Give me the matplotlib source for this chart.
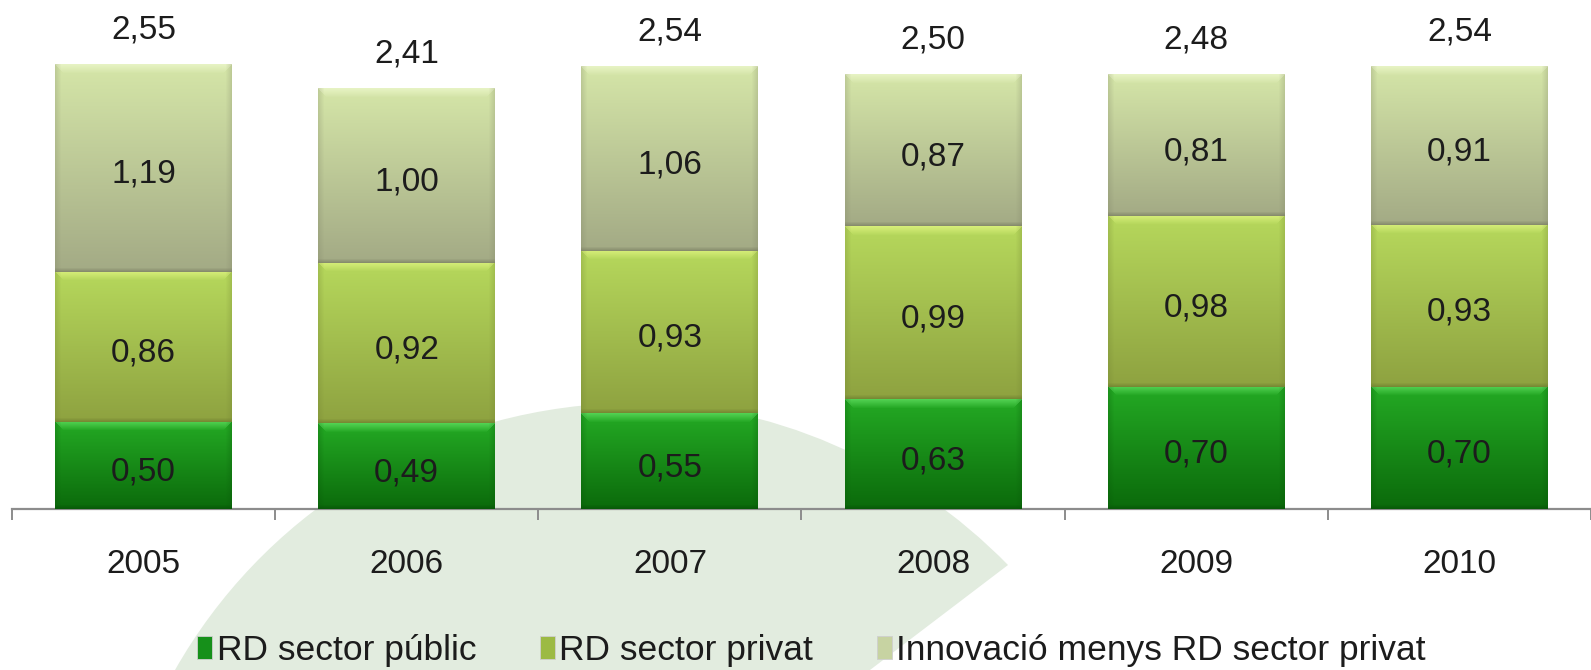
import numpy as np
import matplotlib
matplotlib.use("Agg")
import matplotlib.pyplot as plt
from matplotlib.patches import Patch, PathPatch
from matplotlib.path import Path
from matplotlib.colors import to_rgb
from matplotlib.transforms import offset_copy

years = ["2005", "2006", "2007", "2008", "2009", "2010"]
rd_public = [0.50, 0.49, 0.55, 0.63, 0.70, 0.70]
rd_privat = [0.86, 0.92, 0.93, 0.99, 0.98, 0.93]
innovacio = [1.19, 1.00, 1.06, 0.87, 0.81, 0.91]
totals = [2.55, 2.41, 2.54, 2.50, 2.48, 2.54]
series_names = ["RD sector públic", "RD sector privat", "Innovació menys RD sector privat"]

plt.rcParams['font.family'] = ['Liberation Sans', 'DejaVu Sans']

W, H = 1591, 670
fig = plt.figure(figsize=(W / 100, H / 100), dpi=100)
fig.patch.set_facecolor("white")

# faint watermark swoosh (decorative background)
def fp(x, y):
    return (x / W, 1 - y / H)
verts = [fp(175, 670), fp(260, 520), fp(420, 410), fp(620, 403),
         fp(770, 398), fp(910, 465), fp(1008, 565), fp(870, 670), fp(175, 670)]
codes = [Path.MOVETO, Path.CURVE4, Path.CURVE4, Path.CURVE4,
         Path.CURVE4, Path.CURVE4, Path.CURVE4, Path.LINETO, Path.CLOSEPOLY]
fig.patches.append(PathPatch(Path(verts, codes), transform=fig.transFigure,
                             facecolor="#e2ecdf", edgecolor="none", zorder=-10))

ax = fig.add_axes([12 / W, (H - 509) / H, 1 - 12 / W, (509 - 20.4) / H])
ax.set_zorder(1)
ax.patch.set_alpha(0)
ax.set_xlim(-0.5, len(years) - 0.5)
ax.set_ylim(0, 2.8)

styles = [
    dict(top="#24aa24", bot="#0b6a0b", bevel="#5ad85a", dark="#075407"),
    dict(top="#b6d85c", bot="#8ea240", bevel="#dcf27e", dark="#6f7f30"),
    dict(top="#d5e6a8", bot="#a3aa85", bevel="#eaf5c8", dark="#7c8064"),
]
layers = [rd_public, rd_privat, innovacio]
width = 0.672

fig.canvas.draw()
px_per_unit = (ax.transData.transform((0, 1))[1] - ax.transData.transform((0, 0))[1])
px_per_x = (ax.transData.transform((1, 0))[0] - ax.transData.transform((0, 0))[0])

def segment_image(h_px, w_px, st):
    ny, nx = max(int(round(h_px)), 2), max(int(round(w_px)), 2)
    t = np.linspace(0, 1, ny)[:, None, None]
    top, bot = np.array(to_rgb(st["top"])), np.array(to_rgb(st["bot"]))
    img = np.broadcast_to(top * (1 - t) + bot * t, (ny, nx, 3)).copy()
    bev = np.array(to_rgb(st["bevel"]))
    dark = np.array(to_rgb(st["dark"]))
    bh = 9
    for r in range(min(bh, ny)):
        a = 0.85 * (1 - r / bh)
        lo, hi = r, nx - r
        img[r, lo:hi] = img[r, lo:hi] * (1 - a) + bev * a
    sw = 6
    for c in range(min(sw, nx // 2)):
        a = 0.25 * (1 - c / sw)
        img[:, c] = img[:, c] * (1 - a) + dark * a
        img[:, nx - 1 - c] = img[:, nx - 1 - c] * (1 - a) + dark * a
    for r in range(min(4, ny)):
        a = 0.7 * (1 - r / 4)
        img[ny - 1 - r] = img[ny - 1 - r] * (1 - a) + dark * a
    return img

label_tr = offset_copy(ax.transData, fig=fig, x=0, y=-3, units="dots")
x = np.arange(len(years))
bottom = np.zeros(len(years))
for vals, st in zip(layers, styles):
    bars = ax.bar(x, vals, width, bottom=bottom, color=st["top"],
                  edgecolor="none", zorder=2)
    for xi, b0, v, bar in zip(x, bottom, vals, bars):
        img = segment_image(v * px_per_unit, width * px_per_x, st)
        im = ax.imshow(img, extent=[xi - width / 2, xi + width / 2, b0, b0 + v],
                       aspect="auto", zorder=3, interpolation="bilinear")
        im.set_clip_path(bar)
        ax.text(xi, b0 + v / 2, f"{v:.2f}".replace(".", ","), ha="center",
                va="center_baseline", fontsize=24, color="#1c1c1c", zorder=5,
                transform=label_tr)
    bottom = bottom + np.array(vals)

for xi, tot, top in zip(x, totals, bottom):
    ax.annotate(f"{tot:.2f}".replace(".", ","), (xi, top), xytext=(0, 27),
                textcoords="offset points", ha="center", va="center_baseline",
                fontsize=24, color="#1c1c1c")

for s in ["top", "right", "left"]:
    ax.spines[s].set_visible(False)
ax.spines["bottom"].set_color("#8c8c8c")
ax.spines["bottom"].set_linewidth(1.6)
ax.set_yticks([])
ax.set_xticks(np.arange(-0.5, len(years), 1.0))
ax.set_xticklabels([])
ax.tick_params(axis="x", which="major", direction="out", length=8, width=1.4,
               color="#8c8c8c")
ax.set_xticks(x, minor=True)
ax.set_xticklabels(years, minor=True, fontsize=24, color="#1c1c1c")
ax.tick_params(axis="x", which="minor", length=0, pad=29)

handles = [Patch(facecolor=c, edgecolor="#cfcfcf", linewidth=0.6)
           for c in ["#16901a", "#9cba44", "#c7d3a2"]]
fig.legend(handles, series_names, loc="center", bbox_to_anchor=(0.510, 0.029),
           ncol=3, frameon=False, fontsize=25.5, handlelength=0.42,
           handleheight=0.62, handletextpad=0.12, columnspacing=1.8,
           labelcolor="#1c1c1c", borderaxespad=0, borderpad=0)

fig.savefig("out.png", dpi=100, facecolor="white")
